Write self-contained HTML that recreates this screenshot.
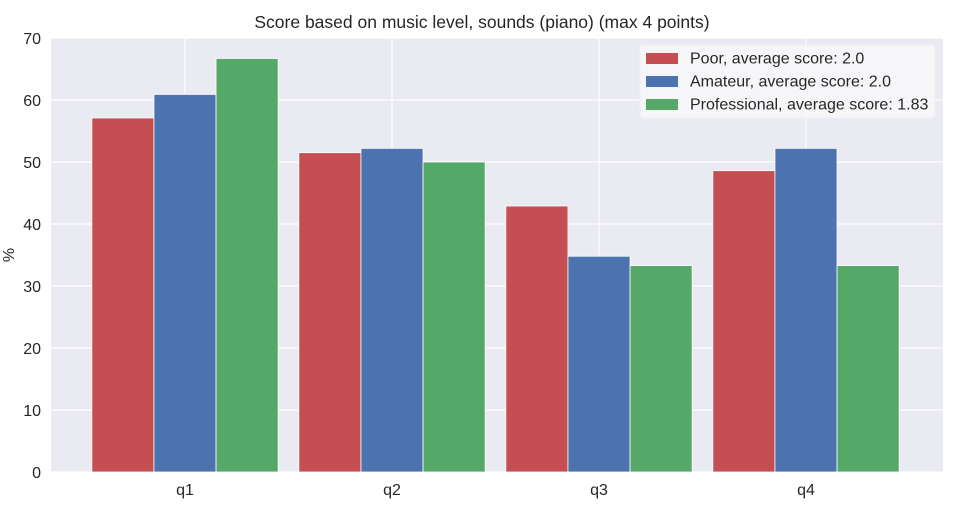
<!DOCTYPE html>
<html><head><meta charset="utf-8"><style>
body{margin:0;background:#fff;width:963px;height:512px;overflow:hidden;font-family:"Liberation Sans",Arial,sans-serif}
</style></head><body>
<svg id="chart" width="963" height="512" xmlns="http://www.w3.org/2000/svg" font-family="Liberation Sans, Arial, sans-serif"></svg>
<script>
const categories = ["q1","q2","q3","q4"];
const poor = [57.1, 51.5, 42.9, 48.6];
const amateur = [60.9, 52.2, 34.8, 52.2];
const professional = [66.7, 50.0, 33.3, 33.3];
const yTicks = [0,10,20,30,40,50,60,70];
const seriesNames = ["Poor, average score: 2.0","Amateur, average score: 2.0","Professional, average score: 1.83"];

const svg = document.getElementById('chart');
const NS = 'http://www.w3.org/2000/svg';
const L = 51, R = 943, T = 38, B = 472;
const y = v => B - (v/70)*(B-T);
const step = 207, x0 = 185;
const x = i => x0 + i*step;
function mk(tag, attrs, parent){const e=document.createElementNS(NS,tag);for(const k in attrs)e.setAttribute(k,attrs[k]);(parent||svg).appendChild(e);return e;}

const bg = mk('rect',{x:L,y:T,width:R-L,height:B-T,fill:'#eaeaf2'});



yTicks.forEach(t=>{
  const g = mk('line',{x1:L,x2:R,y1:y(t),y2:y(t),stroke:'#fff','stroke-width':1.2});
  
  
  const tx = mk('text',{x:L-10,y:y(t)+6,'text-anchor':'end','font-size':16,fill:'#262626'});
  tx.textContent = t;
  
  
});
categories.forEach((c,i)=>{
  const g = mk('line',{x1:x(i),x2:x(i),y1:T,y2:B,stroke:'#fff','stroke-width':1.2});
  
  
  const tx = mk('text',{x:x(i),y:B+23,'text-anchor':'middle','font-size':16,fill:'#262626'});
  tx.textContent = c;
  
  
});

const series = [poor, amateur, professional];
const colors = ['#c44e52','#4c72b0','#55a868'];
const bw = step*0.9/3;
series.forEach((s,si)=>{
  s.forEach((v,i)=>{
    const bx = x(i) - 1.5*bw + si*bw;
    const r = mk('rect',{x:bx,y:y(v),width:bw,height:B-y(v),fill:colors[si],stroke:'#fff','stroke-width':0.8});
    
    
  });
});

const title = mk('text',{x:482,y:28,'text-anchor':'middle','font-size':17.5,fill:'#262626'});
title.textContent = 'Score based on music level, sounds (piano) (max 4 points)';



const yl = mk('text',{x:0,y:0,'text-anchor':'middle','font-size':16,fill:'#262626',transform:'translate(14,255) rotate(-90)'});
yl.textContent = '%';



const leg = mk('g',{});


mk('rect',{x:640,y:45,width:295,height:73,rx:3,fill:'#f7f7fa',stroke:'#f0f0f5','fill-opacity':0.9},leg);
seriesNames.forEach((n,i)=>{
  const cy = 58 + i*23;
  const p = mk('rect',{x:646,y:cy-5,width:32,height:11,fill:colors[i]},leg);
  
  
  const t = mk('text',{x:690,y:cy+5.5,'font-size':16,fill:'#262626'},leg);
  t.textContent = n;
  
  
});
</script>
</body></html>
